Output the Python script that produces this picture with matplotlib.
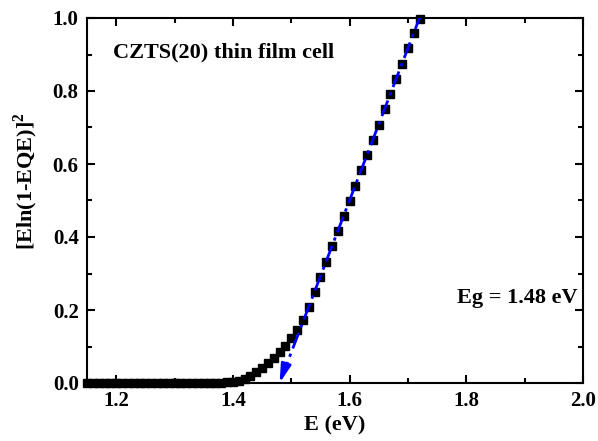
import numpy as np
import matplotlib
matplotlib.use("Agg")
import matplotlib.pyplot as plt
from matplotlib.ticker import MultipleLocator

# Data
energy = [round(1.15 + 0.01 * i, 2) for i in range(58)]  # 1.15 ... 1.72
signal = [0.0] * 22 + [
    0.0005, 0.001, 0.002,                                                   # 1.37-1.39
    0.003, 0.006, 0.012, 0.020, 0.030, 0.042, 0.055, 0.069, 0.084, 0.101,   # 1.40-1.49
    0.122, 0.145, 0.172, 0.208, 0.248, 0.290, 0.332, 0.374, 0.416, 0.457,   # 1.50-1.59
    0.499, 0.541, 0.583, 0.624, 0.666, 0.708, 0.750, 0.791, 0.833, 0.875,   # 1.60-1.69
    0.917, 0.958, 0.996]                                                    # 1.70-1.72
eg = 1.48
fit_x = [1.4835, 1.727]
fit_y = [0.015, 1.03]

plt.rcParams['font.family'] = ['Liberation Serif', 'DejaVu Serif']
plt.rcParams['font.weight'] = 'bold'
plt.rcParams['mathtext.fontset'] = 'custom'
plt.rcParams['mathtext.rm'] = 'Liberation Serif:bold'

fig = plt.figure(figsize=(5.98, 4.41), dpi=100)
ax = fig.add_axes([87/598, 1 - 383/441, (583-87)/598, (383-18)/441])

ax.plot(energy, signal, 's', color='black', markersize=5.2, zorder=3, clip_on=False)
ax.plot(fit_x, fit_y, color='#0000ff', lw=2, linestyle=(0, (6, 2, 1.2, 2)), zorder=4)
ax.annotate('', xy=(eg, 0.0), xytext=(1.4875, 0.035),
            arrowprops=dict(arrowstyle='-|>,head_length=1.1,head_width=0.3',
                            color='#0000ff', lw=2, shrinkA=0, shrinkB=0), zorder=5)

ax.set_xlim(1.15, 2.0)
ax.set_ylim(0, 1.0)
ax.xaxis.set_major_locator(MultipleLocator(0.2))
ax.xaxis.set_minor_locator(MultipleLocator(0.1))
ax.yaxis.set_major_locator(MultipleLocator(0.2))
ax.yaxis.set_minor_locator(MultipleLocator(0.1))
ax.tick_params(which='both', direction='in', top=True, right=True, width=1.5)
ax.tick_params(which='major', length=6, labelsize=15, pad=6)
ax.tick_params(which='minor', length=3.5)
ax.tick_params(labeltop=False, labelright=False)
for lab in ax.get_xticklabels() + ax.get_yticklabels():
    lab.set_fontweight('bold')
for s in ax.spines.values():
    s.set_linewidth(1.5)

ax.set_xlabel('E (eV)', fontsize=16, fontweight='bold', labelpad=3)
ax.set_ylabel(r'[Eln(1-EQE)]$^2$', fontsize=16, fontweight='bold')
ax.yaxis.set_label_coords(-0.095, 0.553)

ax.text(0.052, 0.905, 'CZTS(20) thin film cell', transform=ax.transAxes,
        fontsize=16, fontweight='bold', va='center', ha='left')
ax.text(0.745, 0.232, 'Eg = 1.48 eV', transform=ax.transAxes,
        fontsize=16, fontweight='bold', va='center', ha='left')

fig.savefig('out.png', dpi=100)
